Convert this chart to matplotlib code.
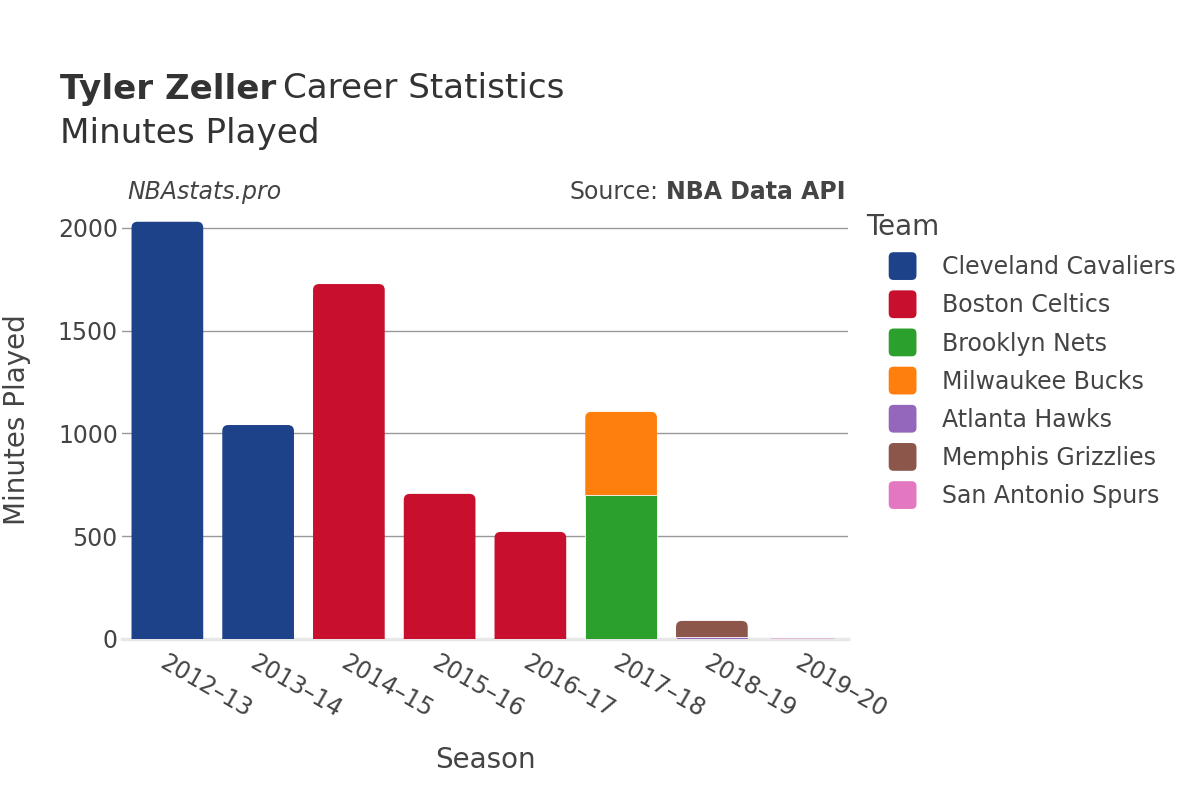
import matplotlib
matplotlib.use("Agg")
import matplotlib.pyplot as plt
from matplotlib.patches import FancyBboxPatch
from matplotlib.legend_handler import HandlerPatch
import numpy as np

seasons = ["2012–13", "2013–14", "2014–15", "2015–16", "2016–17", "2017–18", "2018–19", "2019–20"]
teams = ["Cleveland Cavaliers", "Boston Celtics", "Brooklyn Nets", "Milwaukee Bucks",
         "Atlanta Hawks", "Memphis Grizzlies", "San Antonio Spurs"]
colors = ["#1d428a", "#c8102e", "#2ca02c", "#ff7f0e", "#9467bd", "#8c564b", "#e377c2"]
minutes = {
    "Cleveland Cavaliers": [2030, 1041, 0, 0, 0, 0, 0, 0],
    "Boston Celtics":      [0, 0, 1727, 706, 521, 0, 0, 0],
    "Brooklyn Nets":       [0, 0, 0, 0, 0, 701, 0, 0],
    "Milwaukee Bucks":     [0, 0, 0, 0, 0, 404, 0, 0],
    "Atlanta Hawks":       [0, 0, 0, 0, 0, 0, 10, 0],
    "Memphis Grizzlies":   [0, 0, 0, 0, 0, 0, 78, 0],
    "San Antonio Spurs":   [0, 0, 0, 0, 0, 0, 0, 2],
}
yticks = [0, 500, 1000, 1500, 2000]

plt.rcParams['font.family'] = ['DejaVu Sans']
TXT = "#444444"

fig = plt.figure(figsize=(12, 8), dpi=100)
ax = fig.add_axes([122/1200, 1-639/800, (848-122)/1200, (639-201)/800])

x = np.arange(len(seasons))
width = 0.79
ax.set_xlim(-0.5, len(seasons)-0.5)
ax.set_ylim(0, 2131)

fig.canvas.draw()
px_per_x = ax.transData.transform((1, 0))[0] - ax.transData.transform((0, 0))[0]
px_per_y = ax.transData.transform((0, 1))[1] - ax.transData.transform((0, 0))[1]
radius_px = 6
rx = radius_px / px_per_x
aspect = (1/px_per_y) / (1/px_per_x)

running = np.zeros(len(seasons))
topteam = {}
for t in teams:
    for i, v in enumerate(minutes[t]):
        if v > 0:
            topteam[i] = t

for ti, t in enumerate(teams):
    vals = np.array(minutes[t], dtype=float)
    bars = ax.bar(x, vals, width, bottom=running, color=colors[ti],
                  edgecolor="white", linewidth=0.6, zorder=3)
    for i, (b, v) in enumerate(zip(bars, vals)):
        if v <= 0:
            b.set_visible(False)
            continue
        if topteam[i] == t:
            b.set_visible(False)
            x0 = b.get_x()
            y0 = running[i] - 20 / px_per_y
            h = running[i] + v - y0
            p = FancyBboxPatch((x0, y0), b.get_width(), h,
                               boxstyle=f"round,pad=0,rounding_size={rx}",
                               mutation_aspect=aspect, facecolor=colors[ti],
                               edgecolor="none", zorder=2)
            ax.add_patch(p)
    running = running + vals

ax.axhline(0, color="#e8e8e8", lw=2.5, zorder=1.5, clip_on=False)

ax.set_yticks(yticks)
ax.set_yticklabels([str(v) for v in yticks])
ax.yaxis.grid(True, color="#999999", lw=1, zorder=0)
ax.set_axisbelow(True)
ax.set_xticks(x)
ax.set_xticklabels(seasons, rotation=-30, ha="left", va="top", rotation_mode="anchor")
ax.tick_params(axis="both", length=0, labelsize=17, colors=TXT)
ax.tick_params(axis="x", pad=8)
ax.tick_params(axis="y", pad=3)
for s in ax.spines.values():
    s.set_visible(False)

ax.set_xlabel("Season", fontsize=20, color=TXT)
ax.xaxis.set_label_coords((485-122)/726, -(760-639)/438)
ax.xaxis.label.set_va("center")
ax.set_ylabel("Minutes Played", fontsize=20, color=TXT)
ax.yaxis.set_label_coords(-(122-17)/726, 0.5)
ax.yaxis.label.set_va("center")

TY = 1-89/800
t1 = fig.text(60/1200, TY, "Tyler Zeller", fontsize=24.6, color="#333333", va="center", ha="left", fontweight="bold")
fig.canvas.draw()
bb = t1.get_window_extent()
fig.text(bb.x1/1200 + 7/1200, TY, "Career Statistics", fontsize=24.6, color="#333333", va="center", ha="left")
fig.text(60/1200, 1-133/800, "Minutes Played", fontsize=24.6, color="#333333", va="center", ha="left")

fig.text(127/1200, 1-192/800, "NBAstats.pro", fontsize=17, style="italic", color=TXT, va="center", ha="left")
s2 = fig.text(845/1200, 1-192/800, "NBA Data API", fontsize=17, fontweight="bold", color=TXT, va="center", ha="right")
fig.canvas.draw()
bb2 = s2.get_window_extent()
fig.text(bb2.x0/1200 - 7/1200, 1-192/800, "Source:", fontsize=17, color=TXT, va="center", ha="right")


class RoundHandler(HandlerPatch):
    def create_artists(self, legend, orig_handle, xdescent, ydescent, width, height, fontsize, trans):
        s = 20
        cx = -xdescent + width/2
        cy = -ydescent + height/2
        p = FancyBboxPatch((cx - s/2, cy - s/2), s, s,
                           boxstyle="round,pad=0,rounding_size=3.5",
                           facecolor=orig_handle.get_facecolor(), edgecolor="none",
                           transform=trans)
        return [p]

handles = [FancyBboxPatch((0, 0), 1, 1, facecolor=c) for c in colors]
leg = fig.legend(handles, teams, loc="upper left", bbox_to_anchor=(866/1200, 1-213/800),
                 frameon=False, fontsize=17, title="Team", title_fontsize=20,
                 handler_map={FancyBboxPatch: RoundHandler()},
                 handlelength=3.1, handleheight=1.0, handletextpad=0.13, labelspacing=0.6,
                 alignment="left", borderaxespad=0, borderpad=0)
for txt in leg.get_texts():
    txt.set_color(TXT)
leg.get_title().set_color(TXT)

fig.savefig("out.png", dpi=100, facecolor="white")
